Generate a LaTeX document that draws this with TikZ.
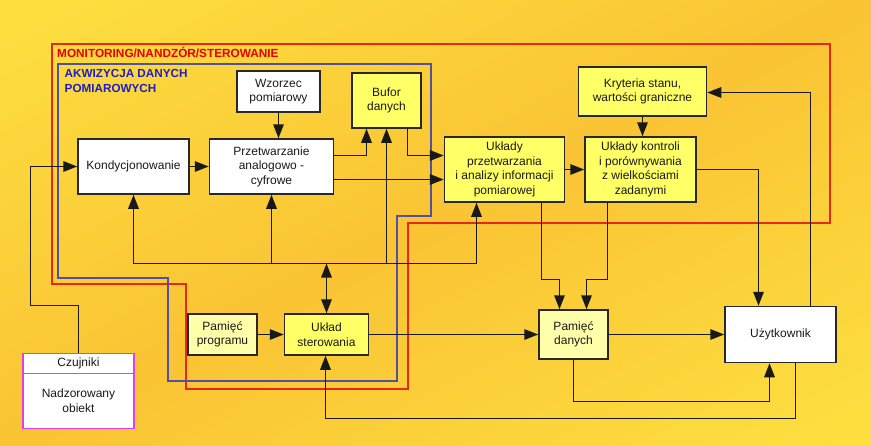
\documentclass[tikz,border=0pt]{standalone}
\usepackage{fontspec}
\setmainfont{Liberation Sans}
\usetikzlibrary{arrows.meta,calc}
\definecolor{bgA}{RGB}{253,224,64}
\definecolor{bgB}{RGB}{250,196,52}
\definecolor{yel}{RGB}{255,255,102}
\definecolor{pale}{RGB}{255,255,170}
\definecolor{redline}{RGB}{230,40,20}
\definecolor{blueline}{RGB}{80,80,165}
\definecolor{redtxt}{RGB}{230,0,0}
\definecolor{bluetxt}{RGB}{30,30,200}
\definecolor{mag}{RGB}{230,60,230}
\definecolor{edge}{RGB}{40,40,40}
\begin{document}
\begin{tikzpicture}[x=1pt,y=-1pt,
  box/.style={draw=edge, line width=1.5pt, inner sep=0pt, align=center,
    font=\fontsize{12}{14.6}\selectfont, text=black!90},
  wbox/.style={box, fill=white},
  ybox/.style={box, fill=yel},
  pbox/.style={box, fill=pale},
  tip/.tip={Triangle[length=14pt,width=10.5pt]},
  arr/.style={line width=1.6pt, draw=black!90, -tip},
  arrboth/.style={line width=1.6pt, draw=black!90, tip-tip},
  ln/.style={line width=1.6pt, draw=black!90},
  outline/.style={line width=2pt}]
\useasboundingbox (0,0) rectangle (871,445);
% background gradient: light at top-left and bottom-right, darker along the anti-diagonal
\begin{scope}
\clip (0,0) rectangle (871,445);
\foreach \i in {0,...,79}{
  \pgfmathsetmacro{\ca}{\i*0.025}
  \pgfmathsetmacro{\cb}{\ca+0.027}
  \pgfmathsetmacro{\p}{abs(1-(\ca+0.0125))*100}
  \fill[bgA!\p!bgB] (871*\ca,0) -- (871*\cb,0) -- (0,445*\cb) -- (0,445*\ca) -- cycle;
}
\end{scope}

% region outlines
\draw[redline, outline] (51.5,43.5) -- (829.5,43.5) -- (829.5,222.5) -- (407.5,222.5) -- (407.5,388.5) -- (185.5,388.5) -- (185.5,283.5) -- (51.5,283.5) -- cycle;
\draw[blueline, outline] (57.5,63.5) -- (430.5,63.5) -- (430.5,215.5) -- (396.5,215.5) -- (396.5,380.5) -- (167.5,380.5) -- (167.5,277.5) -- (57.5,277.5) -- cycle;
\node[anchor=west, inner sep=0pt, text=redtxt, font=\bfseries\fontsize{11.8}{14}\selectfont] (lred) at (57,52.5) {MONITORING/NANDZÓR/STEROWANIE};
\node[anchor=north west, inner sep=0pt, align=left, text=bluetxt, font=\bfseries\fontsize{11.7}{15}\selectfont] (lblue) at (64.5,69) {AKWIZYCJA DANYCH\\POMIAROWYCH};

% nodes
\node[wbox, minimum width=83pt, minimum height=41pt] (wz) at (278.5,91.5) {Wzorzec\\pomiarowy};
\node[ybox, minimum width=69pt, minimum height=55pt] (buf) at (386.5,100.5) {Bufor\\danych};
\node[wbox, minimum width=111pt, minimum height=55pt] (kon) at (133.5,166.5) {Kondycjonowanie};
\node[wbox, minimum width=124pt, minimum height=55pt] (ac) at (271.5,166.5) {Przetwarzanie\\analogowo -\\cyfrowe};
\node[ybox, minimum width=120pt, minimum height=65pt] (up) at (504.5,169.5) {Układy\\przetwarzania\\i analizy informacji\\pomiarowej};
\node[ybox, minimum width=111pt, minimum height=65pt] (uk) at (640.5,169.5) {Układy kontroli\\i porównywania\\z wielkościami\\zadanymi};
\node[ybox, minimum width=128pt, minimum height=49pt] (kr) at (642.5,91.5) {Kryteria stanu,\\wartości graniczne};
\node[pbox, minimum width=69pt, minimum height=41pt] (pp) at (222.5,334.5) {Pamięć\\programu};
\node[ybox, minimum width=84pt, minimum height=41pt] (us) at (326.5,334.5) {Układ\\sterowania};
\node[pbox, minimum width=69pt, minimum height=49pt] (pd) at (573.5,334.5) {Pamięć\\danych};
\node[wbox, minimum width=111pt, minimum height=56pt] (uz) at (780.5,334.5) {Użytkownik};
\node[wbox, draw=mag, line width=1.5pt, minimum width=111pt, minimum height=20pt] (czh) at (78.5,363.5) {Czujniki};
\node[wbox, draw=mag, line width=1.5pt, minimum width=111pt, minimum height=55pt] (czb) at (78.5,401) {Nadzorowany\\obiekt};

% connectors
\draw[arr] (czh.north) -- (78.5,305.5) -- (30.5,305.5) -- (30.5,166.5) -- (kon.west);
\draw[arr] (kon.east) -- (kon.east -| ac.west);
\draw[arr] (wz.south) -- (wz.south |- ac.north);
\draw[arr] (ac.east |- 0,155.5) -- (366.5,155.5) -- (buf.south -| 366.5,0);
\draw[arr] (ac.east |- 0,179.5) -- (up.west |- 0,179.5);
\draw[arr] (buf.south -| 407.5,0) -- (407.5,155.5) -- (up.west |- 0,155.5);
\draw[ln] (kon.south |- 0,263.5) -- (476.5,263.5);
\draw[arr] (kon.south |- 0,263.5) -- (kon.south);
\draw[arr] (271.5,263.5) -- (ac.south -| 271.5,0);
\draw[arr] (buf.south |- 0,263.5) -- (buf.south);
\draw[arr] (476.5,263.5) -- (up.south -| 476.5,0);
\draw[arrboth] (us.north |- 0,263.5) -- (us.north);
\draw[arr] (pp.east) -- (us.west);
\draw[arr] (us.east) -- (us.east -| pd.west);
\draw[arr] (pd.east) -- (pd.east -| uz.west);
\draw[arr] (up.east) -- (uk.west);
\draw[arr] (kr.south) -- (kr.south |- uk.north);
\draw[arr] (up.south -| 541.5,0) -- (541.5,279.5) -- (559.5,279.5) -- (pd.north -| 559.5,0);
\draw[arr] (uk.south -| 607.5,0) -- (607.5,279.5) -- (586.5,279.5) -- (pd.north -| 586.5,0);
\draw[arr] (uk.east) -- (758.5,169.5) -- (uz.north -| 758.5,0);
\draw[arr] (uz.north -| 810.5,0) -- (810.5,92.5) -- (kr.east |- 0,92.5);
\draw[arr] (pd.south) -- (573.5,401.5) -- (769.5,401.5) -- (uz.south -| 769.5,0);
\draw[arr] (uz.south -| 795.5,0) -- (795.5,418.5) -- (325.5,418.5) -- (us.south -| 325.5,0);
\end{tikzpicture}
\end{document}
